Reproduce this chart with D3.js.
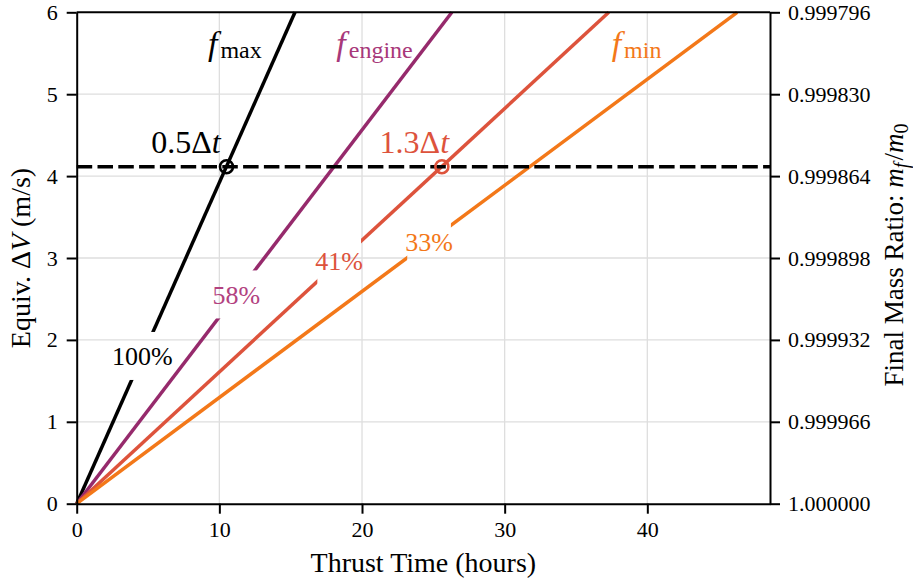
<!DOCTYPE html>
<html>
<head>
<meta charset="utf-8">
<script src="https://cdn.jsdelivr.net/npm/d3@7"></script>
<style>
  body { margin: 0; background: #fff; }
  text { font-family: "Liberation Serif", "DejaVu Serif", serif; }
</style>
</head>
<body>
<svg id="chart" width="913" height="581"></svg>
<script>
// data
var seriesKeys   = ["max", "engine", "mid", "min"];
var seriesColors = ["#000000", "#962a6c", "#dd533c", "#f37819"];
var reachTimes   = [15.3, 26.3, 37.3, 46.3];   // hours at which each line hits 6 m/s
var pctLabels    = ["100%", "58%", "41%", "33%"];
var pctColors    = ["#000000", "#b2427f", "#dd533c", "#f37819"];
var pctLabelX    = [4.6, 11.2, 18.4, 24.7];    // hours, where the inline label sits
var nameLabels   = [["f", "max"], ["f", "engine"], ["f", "min"]];
var nameColors   = ["#000000", "#a8387a", "#f37819"];
var nameX        = [9.2, 18.2, 37.5];
var targetDV     = 4.115;
var markerTimes  = [10.5, 25.6];
var markerColors = ["#000000", "#dd533c"];
var markerLabels = [["0.5Δ", "t"], ["1.3Δ", "t"]];
var markerLabelX = [7.66, 23.67];
var xTicks = [0, 10, 20, 30, 40];
var yTicks = [0, 1, 2, 3, 4, 5, 6];
var massTicks = ["1.000000", "0.999966", "0.999932", "0.999898", "0.999864", "0.999830", "0.999796"];

var margin = {top: 12.3, right: 143, bottom: 77.3, left: 76.7},
    width = 913 - margin.left - margin.right,
    height = 581 - margin.top - margin.bottom;

var svg = d3.select("#chart");
var g = svg.append("g")
    .attr("transform", "translate(" + margin.left + "," + margin.top + ")");

var x = d3.scaleLinear().domain([0, 48.6]).range([0, width]),
    y = d3.scaleLinear().domain([0, 6]).range([height, 0]);

// grid
g.append("g").selectAll("line")
  .data(xTicks.filter(function(d) { return d > 0; }))
  .enter().append("line")
    .attr("x1", function(d) { return x(d); }).attr("x2", function(d) { return x(d); })
    .attr("y1", 0).attr("y2", height)
    .attr("stroke", "#dedede").attr("stroke-width", 1.3);
g.append("g").selectAll("line")
  .data(yTicks.filter(function(d) { return d > 0 && d < 6; }))
  .enter().append("line")
    .attr("x1", 0).attr("x2", width)
    .attr("y1", function(d) { return y(d); }).attr("y2", function(d) { return y(d); })
    .attr("stroke", "#dedede").attr("stroke-width", 1.3);

var defs = svg.append("defs");
var line = d3.line().x(function(d) { return x(d[0]); }).y(function(d) { return y(d[1]); });

var lineLayer = g.append("g");
var labelLayer = g.append("g");

seriesKeys.forEach(function(key, i) {
  var lx = pctLabelX[i], ly = 6 * lx / reachTimes[i];
  var t = labelLayer.append("text")
      .attr("x", x(lx)).attr("y", y(ly)).attr("dy", "0.35em")
      .attr("text-anchor", "middle")
      .attr("font-size", 26)
      .attr("fill", pctColors[i])
      .text(pctLabels[i]);
  var bb = t.node().getBBox();
  var mask = defs.append("mask").attr("id", "m-" + key)
      .attr("maskUnits", "userSpaceOnUse")
      .attr("x", -50).attr("y", -50).attr("width", 1000).attr("height", 700);
  mask.append("rect").attr("x", -50).attr("y", -50).attr("width", 1000).attr("height", 700).attr("fill", "#fff");
  mask.append("rect")
      .attr("x", x(lx) - (bb.width - 4) / 2).attr("y", y(ly) - 24)
      .attr("width", bb.width - 4).attr("height", 48)
      .attr("fill", "#000");
  lineLayer.append("path")
      .datum([[0, 0], [reachTimes[i], 6]])
      .attr("d", line)
      .attr("fill", "none")
      .attr("stroke", seriesColors[i])
      .attr("stroke-width", 3.5)
      .attr("mask", "url(#m-" + key + ")");
});

// target ΔV
g.append("line")
    .attr("x1", 0).attr("x2", width)
    .attr("y1", y(targetDV)).attr("y2", y(targetDV))
    .attr("stroke", "#000").attr("stroke-width", 3.5)
    .attr("stroke-dasharray", "15.5,5.3");

g.selectAll(".marker")
  .data(markerTimes)
  .enter().append("circle")
    .attr("class", "marker")
    .attr("cx", function(d) { return x(d); })
    .attr("cy", y(targetDV))
    .attr("r", 6.5)
    .attr("fill", "none")
    .attr("stroke", function(d, i) { return markerColors[i]; })
    .attr("stroke-width", 2.6);

markerLabels.forEach(function(lbl, i) {
  var t = g.append("text")
      .attr("x", x(markerLabelX[i])).attr("y", y(4.286))
      .attr("text-anchor", "middle")
      .attr("font-size", 32)
      .attr("fill", markerColors[i]);
  t.append("tspan").text(lbl[0]);
  t.append("tspan").attr("font-style", "italic").text(lbl[1]);
});

nameLabels.forEach(function(lbl, i) {
  var t = g.append("text")
      .attr("x", x(nameX[i])).attr("y", y(5.48))
      .attr("fill", nameColors[i]);
  t.append("tspan").attr("font-style", "italic").attr("font-size", 34).text(lbl[0]);
  t.append("tspan").attr("font-size", 24).attr("dx", 3).attr("dy", 3).text(lbl[1]);
});

// axes
var xAxis = g.append("g")
    .attr("transform", "translate(0," + height + ")")
    .call(d3.axisBottom(x).tickValues(xTicks).tickSize(10).tickSizeOuter(0).tickPadding(8));
var yAxis = g.append("g")
    .call(d3.axisLeft(y).tickValues(yTicks).tickFormat(d3.format("d"))
      .tickSize(10).tickSizeOuter(0).tickPadding(9));
var y2Axis = g.append("g")
    .attr("transform", "translate(" + width + ",0)")
    .call(d3.axisRight(y).tickValues(yTicks).tickSize(10).tickSizeOuter(0).tickPadding(8)
      .tickFormat(function(d, i) { return massTicks[i]; }));
g.append("line")
    .attr("x1", 0).attr("x2", width).attr("y1", 0).attr("y2", 0)
    .attr("stroke", "#000").attr("stroke-width", 2);

[xAxis, yAxis, y2Axis].forEach(function(a) {
  a.attr("font-family", null);
  a.selectAll("path").attr("stroke", "#000").attr("stroke-width", 2);
  a.selectAll(".tick line").attr("stroke", "#000").attr("stroke-width", 2);
  a.selectAll(".tick text").attr("font-size", 22).attr("fill", "#000");
});

svg.append("text")
    .attr("x", margin.left + width / 2).attr("y", 571.7)
    .attr("text-anchor", "middle").attr("font-size", 28)
    .text("Thrust Time (hours)");

var yl = svg.append("text")
    .attr("transform", "translate(30," + (margin.top + height / 2) + ") rotate(-90)")
    .attr("text-anchor", "middle").attr("font-size", 28);
yl.append("tspan").text("Equiv. Δ");
yl.append("tspan").attr("font-style", "italic").text("V");
yl.append("tspan").text(" (m/s)");

var rl = svg.append("text")
    .attr("transform", "translate(903," + (margin.top + height / 2 - 3) + ") rotate(-90)")
    .attr("text-anchor", "middle").attr("font-size", 27);
rl.append("tspan").text("Final Mass Ratio: ");
rl.append("tspan").attr("font-style", "italic").text("m");
rl.append("tspan").attr("font-style", "italic").attr("font-size", 20).attr("dy", 5).text("f");
rl.append("tspan").attr("dy", -5).attr("dx", 2).text("/");
rl.append("tspan").attr("font-style", "italic").text("m");
rl.append("tspan").attr("font-size", 20).attr("dy", 5).text("0");
</script>
</body>
</html>
